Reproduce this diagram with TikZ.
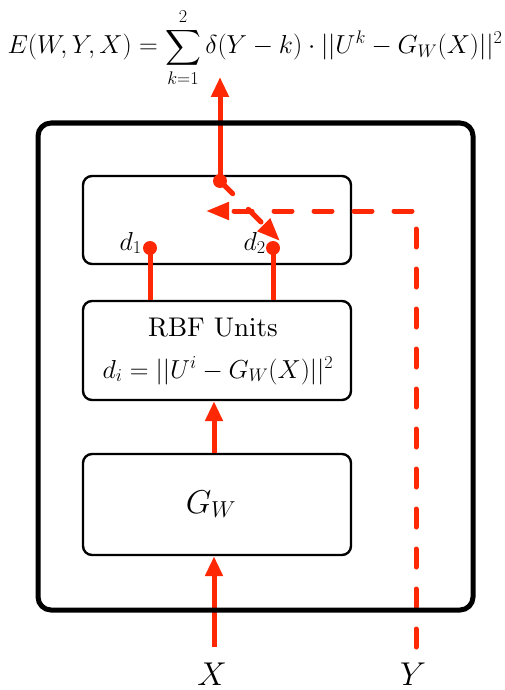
\RequirePackage{fix-cm}
\documentclass[tikz,border=0pt]{standalone}
\usepackage{amsmath}
\font\rbffont=cmr10 at 27pt
\usetikzlibrary{arrows.meta}
\definecolor{rbfred}{RGB}{255,40,5}
\begin{document}
\begin{tikzpicture}[x=1pt,y=-1pt,
  box/.style={draw=black,line width=2.4pt,rounded corners=9pt,minimum width=268pt,inner sep=0pt},
  outerbox/.style={draw=black,line width=5pt,rounded corners=13pt,minimum width=435pt,minimum height=487pt,inner sep=0pt},
  redline/.style={draw=rbfred,line width=5pt},
  reddash/.style={draw=rbfred,line width=5pt,line cap=round,dash pattern=on 18pt off 22pt},
  tipa/.style={-{Triangle[length=20pt,width=17pt]}},
  tipb/.style={-{Triangle[length=23pt,width=17pt]}},
  dot/.style={circle,fill=rbfred,minimum size=14pt,inner sep=0pt},
  txt/.style={inner sep=0pt,anchor=base,font=\fontsize{26}{32}\selectfont},
  bigtxt/.style={inner sep=0pt,anchor=base,font=\fontsize{33}{39}\selectfont}]
\useasboundingbox (0,0) rectangle (504,690);
% inner boxes
\node[box,minimum height=88pt] (top) at (217,220) {};
\node[box,minimum height=99pt] (rbf) at (217,350.5) {};
\node[box,minimum height=101pt] (gw) at (217,504.5) {};
% texts
\node[txt] (eq) at (255,54) {$\displaystyle E(W,Y,X)=\sum_{k=1}^{2}\delta(Y-k)\cdot||U^k-G_W(X)||^2$};
\node[inner sep=0pt,anchor=base] (rbft) at (213,336) {\rbffont RBF Units};
\node[txt] (dit) at (218,378) {$d_i=||U^i-G_W(X)||^2$};
\node[bigtxt] (gwt) at (211,513) {$G_W$};
\node[bigtxt] (xt) at (212,685) {$X$};
\node[bigtxt] (yt) at (413,685) {$Y$};
% dots and coordinates
\node[dot] (p1) at (150,248) {};
\node[dot] (p2) at (273,248) {};
\node[dot] (pt) at (220,181) {};
\node[txt,anchor=base east] (d1) at (142,250) {$d_1$};
\node[txt,anchor=base east] (d2) at (266,250) {$d_2$};
\coordinate (outtip) at (220,77);
\coordinate (diagtip) at (280,241);
\coordinate (xs) at (214,647);
\coordinate (ys) at (416,647);
\coordinate (ytip) at (206,211);
% red connectors
\draw[redline,tipa] (xs) -- (xs |- gw.south);
\draw[redline,tipa] (xs |- gw.north) -- (xs |- rbf.south);
\draw[redline] (p1.center |- rbf.north) -- (p1.center);
\draw[redline] (p2.center |- rbf.north) -- (p2.center);
\draw[redline,tipa] (pt.center) -- (outtip);
\draw[reddash,tipb] (pt.center) -- (diagtip);
\draw[reddash,tipb] (ys) |- (ytip);
% outer box on top
\node[outerbox] (outer) at (255.5,366.5) {};
\end{tikzpicture}
\end{document}
